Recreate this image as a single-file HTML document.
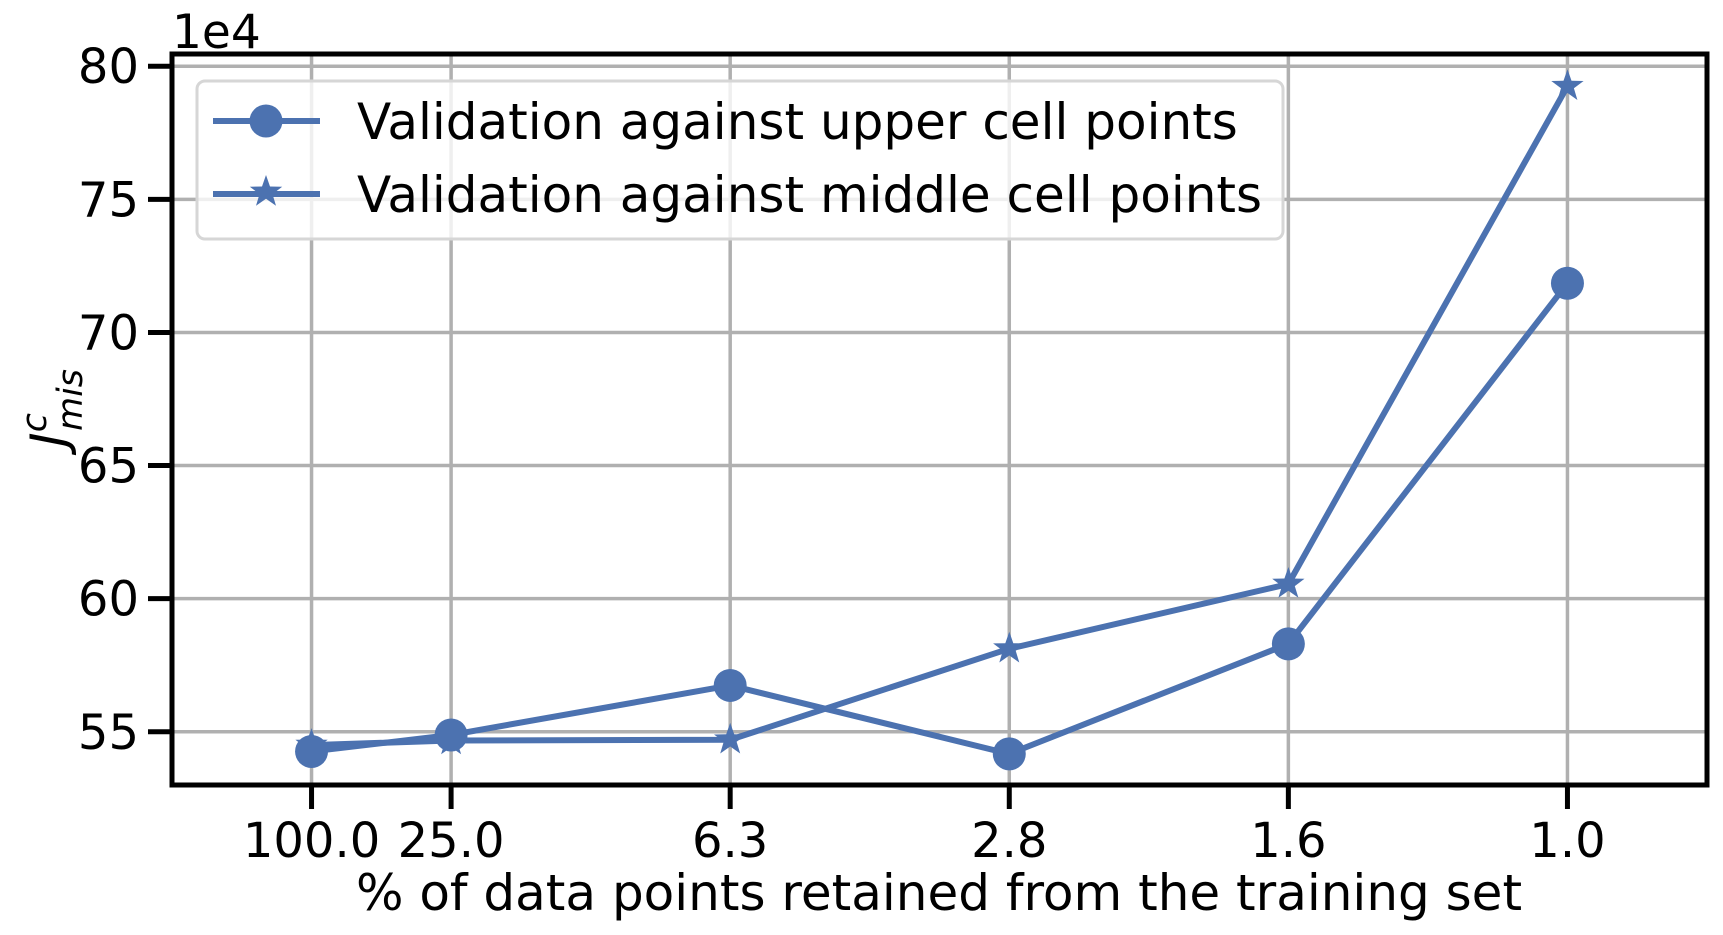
<!DOCTYPE html>
<html><head><meta charset="utf-8">
<style>
html,body{margin:0;padding:0;background:#fff;}
svg{display:block;font-family:"DejaVu Sans","Liberation Sans",sans-serif;}
</style></head>
<body>
<svg id="chart" width="1723" height="935" viewBox="0 0 1723 935">
<g id="grid"></g>
<g id="series"></g>
<g id="axes"></g>
<g id="legend"></g>
</svg>
<script>
const categories = ["100.0","25.0","6.3","2.8","1.6","1.0"];
const catPositions = [1,2,4,6,8,10];
const upperValues = [54.26,54.88,56.74,54.17,58.3,71.85];
const middleValues = [54.5,54.67,54.7,58.12,60.55,79.25];
const yTicks = [55,60,65,70,75,80];

const L=172,R=1707,T=54,B=785;
const xMin=0,xMax=11,yMin=53.0,yMax=80.46;
const xs=v=>L+(v-xMin)/(xMax-xMin)*(R-L);
const ys=v=>B-(v-yMin)/(yMax-yMin)*(B-T);
const NS="http://www.w3.org/2000/svg";
const C="#4c72b0";
function mk(tag,attrs,parent){const e=document.createElementNS(NS,tag);for(const k in attrs)e.setAttribute(k,attrs[k]);parent.appendChild(e);return e;}
const grid=document.getElementById('grid'),series=document.getElementById('series'),axes=document.getElementById('axes'),legend=document.getElementById('legend');

catPositions.forEach((p,i)=>{
  const g=mk('line',{x1:xs(p),x2:xs(p),y1:T,y2:B,stroke:'#b0b0b0','stroke-width':3.5},grid);
  
  
  const t=mk('line',{x1:xs(p),x2:xs(p),y1:B,y2:B+24,stroke:'#000','stroke-width':5},axes);
  
  
  const tx=mk('text',{x:xs(p),y:857,'font-size':48,'text-anchor':'middle',fill:'#000'},axes);
  tx.textContent=categories[i];
  
  
});
yTicks.forEach(v=>{
  const g=mk('line',{x1:L,x2:R,y1:ys(v),y2:ys(v),stroke:'#b0b0b0','stroke-width':3.5},grid);
  
  
  const t=mk('line',{x1:L-24,x2:L,y1:ys(v),y2:ys(v),stroke:'#000','stroke-width':5},axes);
  
  
  const tx=mk('text',{x:L-33,y:ys(v)+17,'font-size':48,'text-anchor':'end',fill:'#000'},axes);
  tx.textContent=String(v);
  
  
});
const frame=mk('rect',{x:L,y:T,width:R-L,height:B-T,fill:'none',stroke:'#000','stroke-width':5},axes);



function star(cx,cy,r){let d='';for(let i=0;i<10;i++){const rr=i%2?r*0.4:r;const a=-Math.PI/2+i*Math.PI/5;d+=(i?'L':'M')+(cx+rr*Math.cos(a)).toFixed(1)+','+(cy+rr*Math.sin(a)).toFixed(1);}return d+'Z';}

function drawSeries(vals,kind){
  const pts=vals.map((v,i)=>xs(catPositions[i])+','+ys(v)).join(' ');
  const pl=mk('polyline',{points:pts,fill:'none',stroke:C,'stroke-width':6,'stroke-linejoin':'round'},series);
  
  
  vals.forEach((v,i)=>{
    let m;
    if(kind==='upper') m=mk('circle',{cx:xs(catPositions[i]),cy:ys(v),r:16.5,fill:C},series);
    else m=mk('path',{d:star(xs(catPositions[i]),ys(v),17),fill:C},series);
    
    
  });
}
drawSeries(upperValues,'upper');
drawSeries(middleValues,'middle');

const lb=mk('rect',{x:197,y:81,width:1086,height:158,rx:8,fill:'#fff','fill-opacity':0.8,stroke:'#d6d6d6','stroke-width':3},legend);


const entries=[["upper","Validation against upper cell points",121],["middle","Validation against middle cell points",194]];
entries.forEach(([k,label,y])=>{
  const l=mk('line',{x1:213,x2:320,y1:y,y2:y,stroke:C,'stroke-width':6},legend);
  
  
  let m;
  if(k==='upper') m=mk('circle',{cx:266,cy:y,r:16.5,fill:C},legend);
  else m=mk('path',{d:star(266,y-2,17),fill:C},legend);
  
  
  const t=mk('text',{x:357,y:y+18,'font-size':50,fill:'#000'},legend);
  t.textContent=label;
  
  
});
</script>
<div style="position:absolute;left:0;top:0;width:1723px;height:935px;pointer-events:none;">
<svg width="1723" height="935" style="position:absolute;left:0;top:0;font-family:'DejaVu Sans','Liberation Sans',sans-serif;">
<text x="172" y="48" font-size="47" fill="#000">1e4</text>
<text x="939" y="910" font-size="50" text-anchor="middle" fill="#000">% of data points retained from the training set</text>
<g transform="translate(66,408) rotate(-90)">
<text x="0" y="0" font-size="50" font-style="italic" text-anchor="middle" fill="#000">J<tspan font-size="35" dy="-20">c</tspan><tspan font-size="35" dx="-18" dy="36">mis</tspan></text>
</g>
</svg>
</div>
</body></html>
